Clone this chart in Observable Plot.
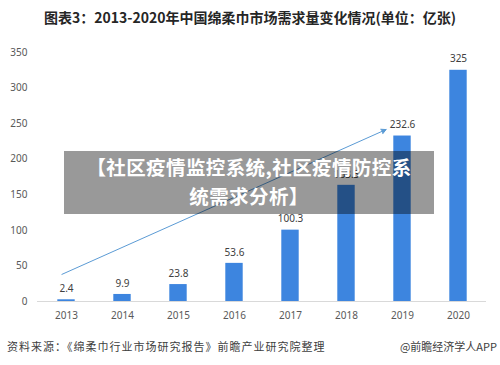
<!DOCTYPE html>
<html><head><meta charset="utf-8">
<script src="https://cdn.jsdelivr.net/npm/d3@7"></script>
<script src="https://cdn.jsdelivr.net/npm/@observablehq/plot@0.6"></script>
<style>
body{margin:0;width:500px;height:365px;background:#fff;position:relative;overflow:hidden;font-family:"Noto Sans CJK SC","Noto Sans",sans-serif;}
#title{position:absolute;left:0;top:0;width:500px;height:35px;line-height:34px;text-align:center;font-size:14px;font-weight:bold;color:#262626;}
#chart{position:absolute;left:0;top:35px;}
#overlay{position:absolute;left:64px;top:151px;width:370px;height:63px;background:rgba(0,0,0,0.4);color:#fff;font-weight:bold;font-size:19.5px;line-height:28.5px;text-align:center;padding-top:2px;box-sizing:border-box;letter-spacing:0.4px;}
#src{position:absolute;left:7px;top:338px;font-size:11px;color:#404040;letter-spacing:1px;}
#app{position:absolute;right:3px;top:338px;font-size:11px;color:#404040;}
</style></head>
<body>
<div id="title">图表3：2013-2020年中国绵柔巾市场需求量变化情况(单位：亿张)</div>
<div id="chart"></div>
<div id="overlay">【社区疫情监控系统,社区疫情防控系<br>统需求分析】</div>
<div id="src">资料来源：《绵柔巾行业市场研究报告》前瞻产业研究院整理</div>
<div id="app">@前瞻经济学人APP</div>
<script>
const years = ["2013","2014","2015","2016","2017","2018","2019","2020"];
const values = [2.4, 9.9, 23.8, 53.6, 100.3, 163.3, 232.6, 325];
const labels = ["2.4","9.9","23.8","53.6","100.3","163.3","232.6","325"];
const yTicks = [0,50,100,150,200,250,300,350];
const trend = [{x1:"2013", y1:41, x2:"2019", y2:252}];

const data = years.map((y,i)=>({year:y, value:values[i], label:labels[i]}));
const barColor = "#3d85df";
const arrowColor = "#5b9bd5";

const chart = Plot.plot({
  width: 500, height: 295,
  marginLeft: 37, marginRight: 14, marginTop: 17, marginBottom: 29,
  style: {fontFamily: '"Noto Sans","Noto Sans CJK SC",sans-serif', fontSize: "10px", color: "#595959", background: "#fff"},
  x: {domain: years, padding: 0, label: null, tickSize: 0, tickPadding: 10},
  y: {domain: [0,350], ticks: yTicks, label: null, tickSize: 0, tickPadding: 10},
  marks: [
    Plot.barY(data, {x: "year", y: "value", fill: barColor, insetLeft: 19.3, insetRight: 19.3}),
    Plot.ruleY([0], {stroke: "#d9d9d9", strokeWidth: 1}),
    Plot.text(data, {x: "year", y: "value", text: "label", dy: -11, fill: "#404040", fontSize: 10}),
    Plot.arrow(trend, {x1: "x1", y1: "y1", x2: "x2", y2: "y2", stroke: arrowColor, fill: arrowColor, strokeWidth: 1, headLength: 8, headAngle: 55, insetStart: -5, insetEnd: 18})
  ]
});
document.getElementById("chart").appendChild(chart);
</script>
</body></html>
